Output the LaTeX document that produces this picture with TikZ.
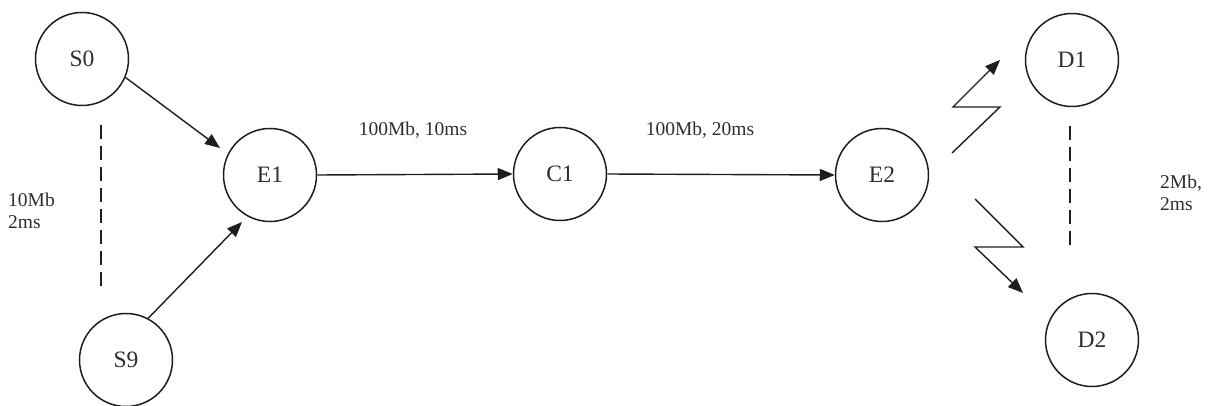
\documentclass[tikz,border=0pt]{standalone}
\usepackage{fontspec}
\setmainfont{Liberation Serif}
\usetikzlibrary{arrows.meta}
\definecolor{ink}{HTML}{1E1E1E}
\definecolor{txt}{HTML}{2E2E2E}
\begin{document}
\begin{tikzpicture}[x=1pt,y=-1pt,
  host/.style={circle,draw=ink,line width=1.5pt,minimum size=93pt,inner sep=0pt,
    text=txt,font=\fontsize{23.5}{26}\selectfont},
  link/.style={draw=ink,line width=1.4pt,-{Triangle[length=15pt,width=12pt]}},
  dashlink/.style={draw=ink,line width=1.4pt,dash pattern=on 14pt off 7pt},
  lbl/.style={text=txt,font=\fontsize{19.5}{22}\selectfont,inner sep=0pt}]
\useasboundingbox (0,0) rectangle (1216,406);

% hosts
\node[host] (S0) at (82,59) {S0};
\node[host] (S9) at (126,360) {S9};
\node[host] (E1) at (270,175) {E1};
\node[host] (C1) at (560,174) {C1};
\node[host] (E2) at (882,175) {E2};
\node[host] (D1) at (1072,60) {D1};
\node[host] (D2) at (1092,340) {D2};

% wired links
\draw[link] (S0.-23) -- (220,148);
\draw[link] (S9.62) -- (242,222);
\draw[link] (E1.east) -- (C1.west);
\draw[link] (C1.east) -- (E2.west);

% wireless links (zigzag)
\coordinate (wa) at (952,153);
\coordinate (wb) at (975,199);
\coordinate (ta) at (1000,60);
\coordinate (tb) at (1023,293);
\draw[link] (wa) -- (1000,107) -- (953,107) -- (ta);
\draw[link] (wb) -- (1023,247) -- (975,247) -- (tb);

% grouping dashes
\coordinate (sa) at (101,125);
\coordinate (sb) at (101,291);
\coordinate (da) at (1070,126);
\coordinate (db) at (1070,248);
\draw[dashlink] (sa) -- (sb);
\draw[dashlink] (da) -- (db);

% labels
\node[lbl,anchor=base] (l1) at (413,136) {100Mb, 10ms};
\node[lbl,anchor=base] (l2) at (700,136) {100Mb, 20ms};
\node[lbl,anchor=base west] (l3) at (8,207) {10Mb};
\node[lbl,anchor=base west] (l4) at (8,229) {2ms};
\node[lbl,anchor=base west] (l5) at (1160,189) {2Mb,};
\node[lbl,anchor=base west] (l6) at (1160,211) {2ms};
\end{tikzpicture}
\end{document}
